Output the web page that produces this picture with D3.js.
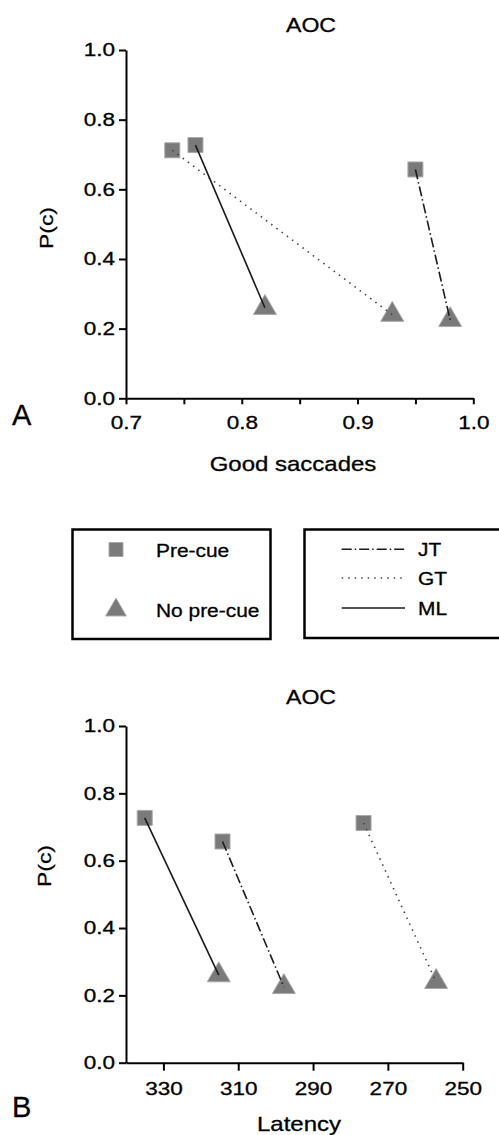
<!DOCTYPE html>
<html>
<head>
<meta charset="utf-8">
<script src="https://d3js.org/d3.v7.min.js"></script>
<style>
  body { margin: 0; background: #fff; }
  svg { display: block; font-family: "Liberation Sans", Arial, Helvetica, sans-serif; }
  svg text { stroke: #000; stroke-width: 0.3px; }
</style>
</head>
<body>
<div id="chart"></div>
<script>
// data (order: JT, GT, ML)
var subjects = ["JT", "GT", "ML"];
var goodPre = [0.95, 0.74, 0.76];
var goodNo = [0.98, 0.93, 0.82];
var pcPre = [0.657, 0.712, 0.727];
var pcNo = [0.225, 0.24, 0.26];
var latPre = [314.2, 276.5, 335];
var latNo = [297.8, 257.1, 315.2];

var pcTicks = [0, 0.2, 0.4, 0.6, 0.8, 1.0];
var goodTicks = [0.7, 0.75, 0.8, 0.85, 0.9, 0.95, 1.0];
var latTicks = [330, 310, 290, 270, 250];
var conds = ["Pre-cue", "No pre-cue"];

var dash = { JT: "10,3,1.5,3", GT: "1.5,5", ML: null };
var markFill = "#7a7a7a", markEdge = "#a9a9a9";

var svg = d3.select("#chart").append("svg")
    .attr("width", 499)
    .attr("height", 1135);

function txt(g, x, y, s, size, anchor, sx, rot) {
  return g.append("text")
      .attr("transform", "translate(" + x + "," + y + ") rotate(" + (rot || 0) + ") scale(" + (sx || 1) + ",1)")
      .attr("text-anchor", anchor)
      .attr("font-size", size)
      .attr("fill", "#000")
      .text(s);
}

function styleAxis(g) {
  g.select(".domain").attr("stroke", "#000").attr("stroke-width", 2);
  g.selectAll(".tick line").attr("stroke", "#000").attr("stroke-width", 2);
  g.selectAll(".tick text").attr("font-size", 18).attr("fill", "#000")
      .attr("font-family", "Liberation Sans, Arial, sans-serif");
}

function panel(opt) {
  var g = svg.append("g");
  var x = opt.x, y = opt.y;

  // y axis
  var ya = g.append("g")
      .attr("transform", "translate(" + x.range()[0] + ",0)")
      .call(d3.axisLeft(y).tickValues(pcTicks).tickSize(7).tickSizeOuter(0)
        .tickPadding(4).tickFormat(d3.format(".1f")));
  styleAxis(ya);
  ya.selectAll(".tick text").attr("x", -11 / 1.25).attr("transform", "scale(1.25,1)");

  // x axis
  var xa = g.append("g")
      .attr("transform", "translate(0," + y.range()[0] + ")")
      .call(d3.axisBottom(x).tickValues(opt.ticks).tickSize(opt.tick).tickSizeOuter(0)
        .tickPadding(opt.pad).tickFormat(opt.fmt));
  styleAxis(xa);
  xa.selectAll(".tick text").attr("transform", "scale(1.25,1)");

  // markers
  subjects.forEach(function(s, i) {
    g.append("path")
        .attr("d", d3.symbol(d3.symbolSquare, 225)())
        .attr("transform", "translate(" + x(opt.pre[i]) + "," + y(pcPre[i]) + ")")
        .attr("fill", markFill).attr("stroke", markEdge).attr("stroke-width", 1);
    g.append("path")
        .attr("d", d3.symbol(d3.symbolTriangle, 229)())
        .attr("transform", "translate(" + x(opt.no[i]) + "," + y(pcNo[i]) + ")")
        .attr("fill", markFill).attr("stroke", markEdge).attr("stroke-width", 1);
  });

  // subject lines, on top of markers
  subjects.forEach(function(s, i) {
    g.append("line")
        .attr("x1", x(opt.pre[i])).attr("y1", y(pcPre[i]))
        .attr("x2", x(opt.no[i])).attr("y2", y(pcNo[i]))
        .attr("stroke", s == "GT" ? "#444" : "#1a1a1a")
        .attr("stroke-width", 1.6)
        .attr("stroke-dasharray", dash[s]);
  });

  txt(g, 311, opt.titleY, "AOC", 21, "middle", 1.1);
  txt(g, opt.ylabX, opt.ylabY, "P(c)", 19, "middle", 1.2, -90);
  txt(g, opt.xlabX, opt.xlabY, opt.xlab, 20, "middle", 1.2);
  txt(g, 12, opt.letterY, opt.letter, 29, "start", 1);
}

// panel A
panel({
  x: d3.scaleLinear().domain([0.7, 1.0]).range([126, 473.3]),
  y: d3.scaleLinear().domain([0, 1]).range([398.3, 50]),
  ticks: goodTicks, tick: 6, pad: 12,
  fmt: function(d) { return Math.round(d * 100) % 10 === 0 ? d3.format(".1f")(d) : ""; },
  pre: goodPre, no: goodNo,
  titleY: 31.5, ylabX: 53, ylabY: 228,
  xlab: "Good saccades", xlabX: 293, xlabY: 470.5,
  letter: "A", letterY: 424.5
});

// panel B
panel({
  x: d3.scaleLinear().domain([340, 250]).range([126, 462.7]),
  y: d3.scaleLinear().domain([0, 1]).range([1062.7, 726]),
  ticks: latTicks, tick: 8, pad: 12,
  fmt: d3.format("d"),
  pre: latPre, no: latNo,
  titleY: 704, ylabX: 51, ylabY: 866,
  xlab: "Latency", xlabX: 299, xlabY: 1131,
  letter: "B", letterY: 1116.5
});

// legends
var lg = svg.append("g");
lg.append("rect").attr("x", 72.5).attr("y", 529.5).attr("width", 198).attr("height", 109.5)
    .attr("fill", "none").attr("stroke", "#000").attr("stroke-width", 2.5);
lg.append("rect").attr("x", 304.5).attr("y", 529.5).attr("width", 210).attr("height", 108.5)
    .attr("fill", "none").attr("stroke", "#000").attr("stroke-width", 2.5);

var condY = [549.5, 610];
lg.append("path").attr("d", d3.symbol(d3.symbolSquare, 196)())
    .attr("transform", "translate(116," + condY[0] + ")")
    .attr("fill", markFill).attr("stroke", markEdge).attr("stroke-width", 1);
lg.append("path").attr("d", d3.symbol(d3.symbolTriangle, 185)())
    .attr("transform", "translate(116," + condY[1] + ")")
    .attr("fill", markFill).attr("stroke", markEdge).attr("stroke-width", 1);
conds.forEach(function(c, i) {
  txt(lg, 156, condY[i] + 7, c, 19, "start", 1.1);
});

var subjY = [549.3, 578, 608];
subjects.forEach(function(s, i) {
  lg.append("line")
      .attr("x1", 341.7).attr("x2", 405)
      .attr("y1", subjY[i]).attr("y2", subjY[i])
      .attr("stroke", s == "GT" ? "#444" : "#1a1a1a")
      .attr("stroke-width", 1.5)
      .attr("stroke-dasharray", dash[s]);
  txt(lg, 418, subjY[i] + 7, s, 19, "start", 1.1);
});
</script>
</body>
</html>
